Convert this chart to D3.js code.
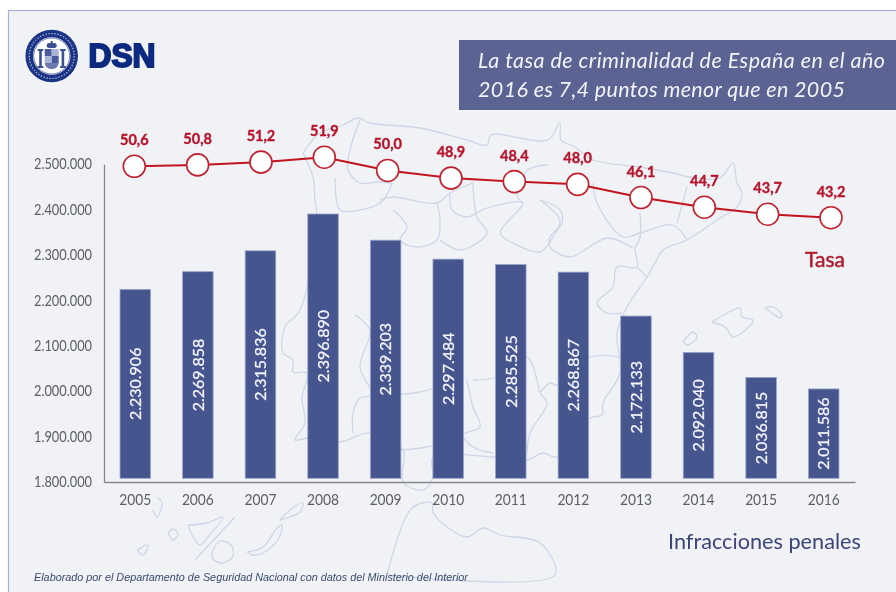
<!DOCTYPE html>
<html>
<head>
<meta charset="utf-8">
<title>Tasa de criminalidad</title>
<script src="https://d3js.org/d3.v7.min.js"></script>
<style>
    html, body { margin: 0; padding: 0; background: #fff; }
    svg { display: block; filter: blur(0.4px); }
    text { font-family: Lato, sans-serif; }
</style>
</head>
<body>
<div id="chart"></div>
<script>
    // Data
    var years = ["2005", "2006", "2007", "2008", "2009", "2010", "2011", "2012", "2013", "2014", "2015", "2016"];
    var infracciones = [2230906, 2269858, 2315836, 2396890, 2339203, 2297484, 2285525, 2268867, 2172133, 2092040, 2036815, 2011586];
    var tasa = [50.6, 50.8, 51.2, 51.9, 50.0, 48.9, 48.4, 48.0, 46.1, 44.7, 43.7, 43.2];
    var yTicks = [1800000, 1900000, 2000000, 2100000, 2200000, 2300000, 2400000, 2500000];
    var titleLines = ["La tasa de criminalidad de España en el año", "2016 es 7,4 puntos menor que en 2005"];

    // Faint map of Spain behind the chart, traced by hand (page pixels, decoration only)
    var mapOutlines = [
        // coast and borders
        [[303,153],[320,133],[343,125],[358,118],[370,123],[420,128],[467,140],[487,145],[491,135],[548,140],[560,123],[561,140],[575,147],[593,160],[640,167],[673,173],[690,177],[720,178],[733,163],[737,183],[742,193],[737,207],[720,218],[687,240],[663,250],[655,263],[647,277],[627,307],[617,332],[620,373],[603,403],[602,415],[590,418],[557,457],[543,453],[527,460],[493,457],[433,457],[433,477],[423,490],[403,482],[403,450],[370,433],[340,442],[308,438],[295,440],[305,423],[302,398],[307,373],[293,372],[293,360],[283,353],[285,327],[300,310],[317,217],[315,200],[313,177],[303,153]],
        // regions
        [[360,120],[350,150],[348,170],[360,183],[377,182],[392,183]],
        [[335,178],[340,210],[360,210],[380,203],[388,193],[392,183]],
        [[380,200],[393,197],[437,203],[450,193],[473,183]],
        [[393,210],[407,227],[400,240],[417,247],[437,240],[440,220],[437,203]],
        [[440,240],[460,250],[487,233],[477,217],[473,183]],
        [[450,193],[452,210],[467,217],[487,208],[523,203],[500,233],[513,243],[540,252],[553,237],[560,220],[540,200]],
        [[523,203],[517,195],[528,170],[548,165]],
        [[540,200],[560,210],[562,223],[550,237],[550,247],[570,257],[607,238],[633,248]],
        [[593,183],[597,203],[623,237],[640,233],[673,225],[687,240]],
        [[687,187],[677,223]],
        [[640,213],[640,238],[635,248],[637,267],[617,267],[613,287],[597,303],[607,313],[622,313]],
        [[637,267],[647,277]],
        [[355,315],[370,330],[360,367],[372,395],[360,398],[353,413],[353,433]],
        [[370,395],[420,392],[460,378]],
        [[467,380],[473,407],[480,427],[463,435],[473,447],[493,453]],
        [[473,380],[497,377],[527,357],[537,380],[540,393],[547,403],[530,433],[527,453]],
        [[540,393],[550,383],[557,385],[590,357],[620,357]],
        [[400,450],[427,447],[463,435]],
        // Balearic islands
        [[712,322],[727,313],[740,308],[742,317],[753,320],[743,332],[733,337],[725,327],[712,322]],
        [[765,308],[773,307],[782,315],[780,318],[772,313],[765,308]],
        [[683,342],[693,332],[697,337],[688,345],[683,342]],
        // Canary islands
        [[157,497],[162,503],[157,517],[153,510]],
        [[137,550],[148,545],[143,555],[137,550]],
        [[168,533],[173,529],[178,534],[173,540],[168,533]],
        [[188,525],[207,523],[223,517],[208,537],[200,545],[192,535],[188,525]],
        [[212,552],[220,541],[231,545],[233,556],[222,563],[213,559],[212,552]],
        [[235,517],[195,560]],
        [[247,552],[263,547],[277,528],[282,525],[278,540],[263,553],[253,555],[247,552]],
        [[280,520],[290,510],[303,503],[300,512],[287,518],[280,520]],
        // Africa
        [[387,575],[412,508],[432,503],[433,512],[447,527],[467,537],[483,528],[500,535],[540,543],[555,575],[387,575]]
    ];

    var width = 896, height = 592;

    var svg = d3.select("#chart").append("svg")
        .attr("width", width)
        .attr("height", height);

    // Panel
    svg.append("rect")
        .attr("x", 8.5).attr("y", 10.5)
        .attr("width", width).attr("height", height)
        .attr("fill", "#f0f2f6")
        .attr("stroke", "#a3b5d3")
        .attr("stroke-width", 1.2);

    // Map
    var mapLine = d3.line().curve(d3.curveCatmullRom.alpha(0.5));
    svg.append("g").selectAll("path")
        .data(mapOutlines)
        .enter().append("path")
        .attr("d", mapLine)
        .attr("fill", "none")
        .attr("stroke", "#cfd6e6")
        .attr("stroke-width", 1.3);

    // Logo
    var logo = svg.append("g").attr("transform", "translate(51.7,56)");
    logo.append("circle").attr("r", 22.5).attr("fill", "#fff").attr("stroke", "#1c3486").attr("stroke-width", 7.5);
    logo.append("circle").attr("r", 22.5).attr("fill", "none").attr("stroke", "#aab6d8").attr("stroke-width", 1.2).attr("stroke-dasharray", "1.5 1.5");
    logo.append("circle").attr("r", 18).attr("fill", "none").attr("stroke", "#1c3486").attr("stroke-width", 0.6);
    var crest = logo.append("g").attr("fill", "#3c5096");
    // crown
    crest.append("rect").attr("x", -5).attr("y", -13).attr("width", 10).attr("height", 5).attr("rx", 2.5);
    crest.append("rect").attr("x", -1).attr("y", -15).attr("width", 2).attr("height", 3);
    // shield
    crest.append("rect").attr("x", -7).attr("y", -7).attr("width", 7).attr("height", 7).attr("fill", "#4a5c9e");
    crest.append("rect").attr("x", 0).attr("y", -7).attr("width", 7).attr("height", 7).attr("fill", "#aab4d4");
    crest.append("rect").attr("x", -7).attr("y", 0).attr("width", 7).attr("height", 7).attr("fill", "#aab4d4");
    crest.append("rect").attr("x", 0).attr("y", 0).attr("width", 7).attr("height", 7).attr("fill", "#4a5c9e");
    crest.append("path").attr("d", "M-7,7 Q-6,13 0,13 Q6,13 7,7 Z").attr("fill", "#6a7ab0");
    // pillars
    crest.append("rect").attr("x", -12.5).attr("y", -5).attr("width", 2.6).attr("height", 16);
    crest.append("rect").attr("x", 9.9).attr("y", -5).attr("width", 2.6).attr("height", 16);
    crest.append("rect").attr("x", -14).attr("y", -7).attr("width", 5.6).attr("height", 2);
    crest.append("rect").attr("x", 8.4).attr("y", -7).attr("width", 5.6).attr("height", 2);
    crest.append("rect").attr("x", -14).attr("y", 10).attr("width", 5.6).attr("height", 2);
    crest.append("rect").attr("x", 8.4).attr("y", 10).attr("width", 5.6).attr("height", 2);

    svg.append("text")
        .attr("x", 88.5).attr("y", 66.5)
        .attr("textLength", 67).attr("lengthAdjust", "spacingAndGlyphs")
        .style("font-family", "'Liberation Sans', sans-serif")
        .style("font-size", "33px")
        .style("font-weight", "bold")
        .attr("fill", "#0d2a80").attr("stroke", "#0d2a80").attr("stroke-width", 2)
        .text("DSN");

    // Title box
    svg.append("rect")
        .attr("x", 459).attr("y", 40)
        .attr("width", width - 459).attr("height", 70)
        .attr("fill", "#5a6391");
    svg.append("g").selectAll("text")
        .data(titleLines)
        .enter().append("text")
        .attr("x", 478)
        .attr("y", function(d, i) { return 68 + i * 28.5; })
        .attr("textLength", function(d, i) { return i === 0 ? 407 : 367; })
        .attr("fill", "#f2f3f8")
        .style("font-size", "21.5px")
        .style("font-style", "italic")
        .text(function(d) { return d; });

    // Scales
    var locale = d3.formatLocale({decimal: ",", thousands: ".", grouping: [3], currency: ["", ""]});
    var fmtInt = locale.format(",d");
    var fmtDec = locale.format(".1f");

    var x = d3.scaleBand()
        .domain(years)
        .range([104, 855])
        .paddingInner(0.512)
        .paddingOuter(0.256);

    var y = d3.scaleLinear()
        .domain([1800000, 2500000])
        .range([485, 167.2]);

    var xLine = d3.scalePoint()
        .domain(years)
        .range([134.3, 831]);

    var yLine = d3.scaleLinear()
        .domain([43.2, 50.6])
        .range([217.7, 166.3]);

    // Axes
    var yAxis = svg.append("g")
        .attr("transform", "translate(104,-3)")
        .call(d3.axisLeft(y).tickValues(yTicks).tickFormat(fmtInt).tickSize(0).tickPadding(12));

    var xAxis = svg.append("g")
        .attr("transform", "translate(0,482)")
        .call(d3.axisBottom(x).tickSize(0).tickPadding(13));

    [yAxis, xAxis].forEach(function(a) {
        a.select(".domain").attr("stroke", "#85878c").attr("stroke-width", 1.3);
        a.selectAll("text")
            .attr("fill", "#5c5e63")
            .attr("lengthAdjust", "spacingAndGlyphs")
            .style("font-family", "Lato, sans-serif")
            .style("font-size", "14.5px");
    });
    // The original face is narrower than Lato
    yAxis.selectAll("text").attr("textLength", 58);
    xAxis.selectAll("text").attr("textLength", 32);

    // Bars stop a little above the axis line, as in the original
    var barBase = y(1800000) - 6.7;

    svg.append("g").selectAll("rect")
        .data(infracciones)
        .enter().append("rect")
        .attr("x", function(d, i) { return x(years[i]); })
        .attr("y", function(d) { return y(d); })
        .attr("width", x.bandwidth())
        .attr("height", function(d) { return barBase - y(d); })
        .attr("fill", "#47558f")
        .attr("stroke", "#9aa4cc")
        .attr("stroke-width", 0.8);

    svg.append("g").selectAll("text")
        .data(infracciones)
        .enter().append("text")
        .attr("transform", function(d, i) {
            var cx = x(years[i]) + x.bandwidth() / 2;
            var cy = (y(d) + barBase) / 2;
            return "translate(" + cx + "," + cy + ") rotate(-90)";
        })
        .attr("text-anchor", "middle")
        .attr("dy", "0.36em")
        .attr("fill", "#f4f5fa")
        .attr("stroke", "#f4f5fa")
        .attr("stroke-width", 0.25)
        .style("font-size", "16px")
        .text(function(d) { return fmtInt(d); });

    // Rate line
    var rateLine = d3.line()
        .x(function(d, i) { return xLine(years[i]); })
        .y(function(d) { return yLine(d); });

    svg.append("path")
        .datum(tasa)
        .attr("d", rateLine)
        .attr("fill", "none")
        .attr("stroke", "#c1141f")
        .attr("stroke-width", 2);

    svg.append("g").selectAll("circle")
        .data(tasa)
        .enter().append("circle")
        .attr("cx", function(d, i) { return xLine(years[i]); })
        .attr("cy", function(d) { return yLine(d); })
        .attr("r", 11)
        .attr("fill", "#fff")
        .attr("stroke", "#c2202e")
        .attr("stroke-width", 1.6);

    svg.append("g").selectAll("text")
        .data(tasa)
        .enter().append("text")
        .attr("x", function(d, i) { return xLine(years[i]); })
        .attr("y", function(d) { return yLine(d) - 21; })
        .attr("text-anchor", "middle")
        .attr("fill", "#b8142c")
        .attr("stroke", "#b8142c")
        .attr("stroke-width", 0.35)
        .style("font-size", "14.5px")
        .style("font-weight", "bold")
        .text(function(d) { return fmtDec(d); });

    // Series names
    svg.append("text")
        .attr("x", 825).attr("y", 267)
        .attr("text-anchor", "middle")
        .attr("fill", "#b01c30")
        .attr("stroke", "#b01c30")
        .attr("stroke-width", 0.5)
        .style("font-size", "21px")
        .text("Tasa");

    svg.append("text")
        .attr("x", 668).attr("y", 549)
        .attr("fill", "#3c4578")
        .style("font-size", "21.7px")
        .text("Infracciones penales");

    // Source
    svg.append("text")
        .attr("x", 34).attr("y", 580.5)
        .attr("fill", "#3b4a6c")
        .style("font-family", "'Liberation Sans', sans-serif")
        .style("font-size", "10.82px")
        .style("font-style", "italic")
        .text("Elaborado por el Departamento de Seguridad Nacional con datos del Ministerio del Interior");
</script>
</body>
</html>
